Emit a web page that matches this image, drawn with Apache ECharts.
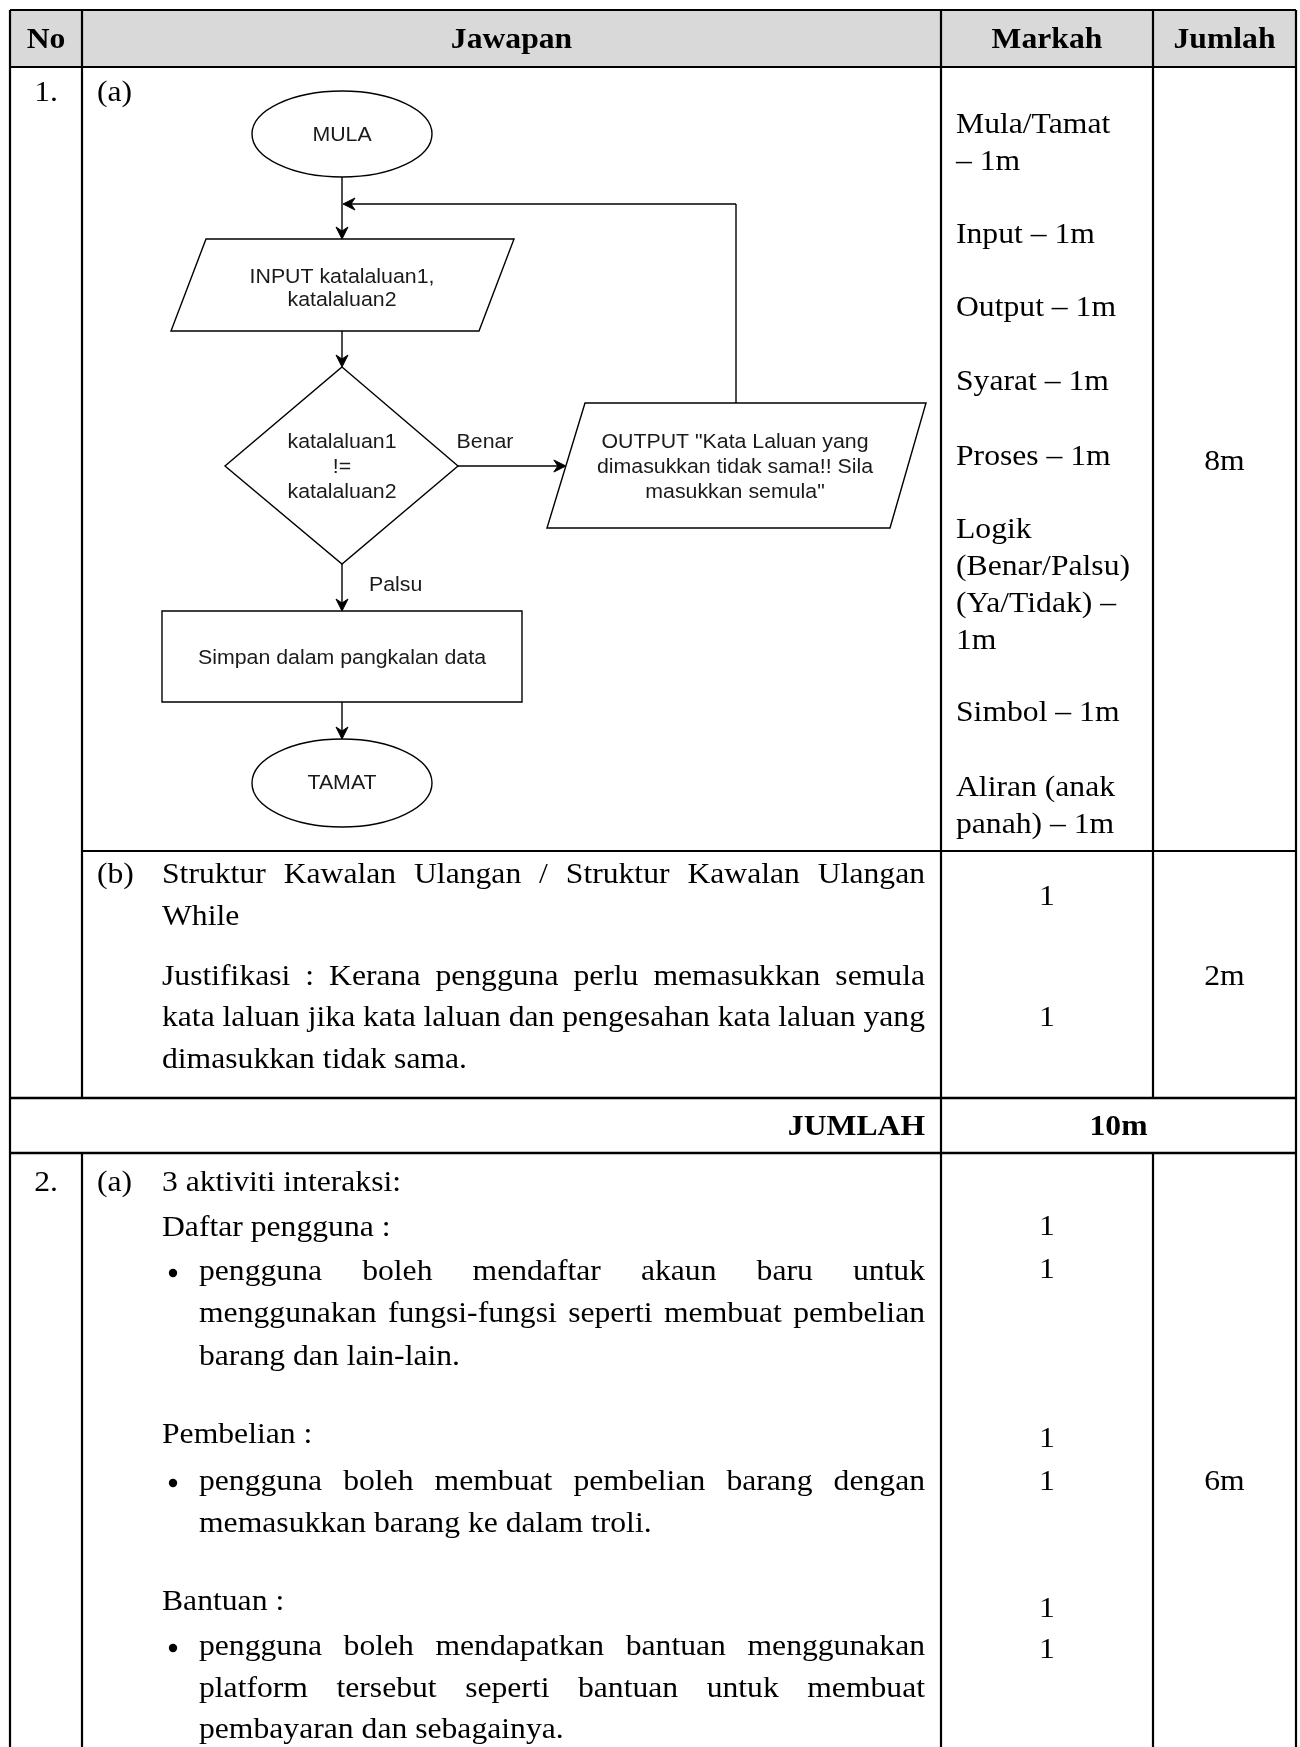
<!DOCTYPE html>
<html><head><meta charset="utf-8">
<script src="https://cdn.jsdelivr.net/npm/echarts@6/dist/echarts.min.js"></script>
<style>html,body{margin:0;padding:0;background:#fff}#c{width:1300px;height:1747px}</style>
</head><body><div id="c"></div>
<script>
// ---------- DATA (text content only) ----------
const headers = ['No', 'Jawapan', 'Markah', 'Jumlah'];
const questionNos = ['1.', '2.'];
const partLabels = ['(a)', '(b)', '(a)'];
const flowStart = 'MULA';
const flowInput = ['INPUT katalaluan1,', 'katalaluan2'];
const flowCond = ['katalaluan1', '!=', 'katalaluan2'];
const flowOutput = ['OUTPUT "Kata Laluan yang', 'dimasukkan tidak sama!! Sila', 'masukkan semula"'];
const flowProcess = 'Simpan dalam pangkalan data';
const flowEnd = 'TAMAT';
const flowBranches = ['Benar', 'Palsu'];
const markahQ1a = ['Mula/Tamat', '– 1m', 'Input – 1m', 'Output – 1m', 'Syarat – 1m', 'Proses – 1m',
  'Logik', '(Benar/Palsu)', '(Ya/Tidak) –', '1m', 'Simbol – 1m', 'Aliran (anak', 'panah) – 1m'];
const jawapanQ1b = [
  ['Struktur Kawalan Ulangan / Struktur Kawalan Ulangan', 'J'],
  ['While', 'L'],
  ['Justifikasi : Kerana pengguna perlu memasukkan semula', 'J'],
  ['kata laluan jika kata laluan dan pengesahan kata laluan yang', 'J'],
  ['dimasukkan tidak sama.', 'L']
];
const marksQ1b = ['1', '1'];
const jumlahQ1 = ['8m', '2m'];
const totalLabel = 'JUMLAH';
const totalQ1 = '10m';
const jawapanQ2a = [
  ['3 aktiviti interaksi:', 'L', 0],
  ['Daftar pengguna :', 'L', 0],
  ['pengguna boleh mendaftar akaun baru untuk', 'J', 2],
  ['menggunakan fungsi-fungsi seperti membuat pembelian', 'J', 1],
  ['barang dan lain-lain.', 'L', 1],
  ['Pembelian :', 'L', 0],
  ['pengguna boleh membuat pembelian barang dengan', 'J', 2],
  ['memasukkan barang ke dalam troli.', 'L', 1],
  ['Bantuan :', 'L', 0],
  ['pengguna boleh mendapatkan bantuan menggunakan', 'J', 2],
  ['platform tersebut seperti bantuan untuk membuat', 'J', 1],
  ['pembayaran dan sebagainya.', 'L', 1]
];
const marksQ2a = ['1', '1', '1', '1', '1', '1'];
const jumlahQ2 = '6m';

// ---------- LAYOUT ----------
const L = {
  left: 10, right: 1296, top: 10, bottom: 1747,
  colNo: 82, colMark: 941, colJum: 1153,
  headBot: 67, row1aBot: 851, row1bBot: 1098, totBot: 1153,
  serif: 'Liberation Serif',
  sans: 'Liberation Sans',
  fs: 30, sx: 1.055, ffs: 20.5, fsx: 1.04,
  textL: 162, textR: 925, bulletX: 173, bulletTextL: 199
};
const markahY = [125, 162, 235, 308, 382, 457, 530, 567, 604, 641, 713, 788, 825];
const q1bY = [875, 917, 977, 1018, 1060];
const q1bMarkY = [897, 1018];
const q2Y = [1183, 1228, 1272, 1314, 1357, 1435, 1482, 1524, 1602, 1647, 1689, 1730];
const q2MarkY = [1227, 1270, 1439, 1482, 1609, 1650];

const els = [];
const ctx = document.createElement('canvas').getContext('2d');
function measure(str, size, fam, bold) { ctx.font = (bold ? 'bold ' : '') + size + 'px "' + fam + '"'; return ctx.measureText(str).width; }

function txt(x, y, s, o) {
  o = o || {};
  els.push({
    type: 'text', x: x, y: y, scaleX: o.sx || L.sx, silent: true, z: 10,
    style: { text: s, fontSize: o.size || L.fs, fontFamily: o.fam || L.serif,
      fontWeight: o.bold ? 'bold' : 'normal', fill: o.fill || '#000',
      textAlign: o.align || 'left', align: o.align || 'left',
      textVerticalAlign: 'middle', verticalAlign: 'middle' }
  });
}
function justify(s, x0, x1, y) {
  const words = s.split(' ');
  const ws = words.map(w => measure(w, L.fs, L.serif) * L.sx);
  const sum = ws.reduce((a, b) => a + b, 0);
  const gap = (x1 - x0 - sum) / (words.length - 1);
  let x = x0;
  words.forEach((w, i) => { txt(x, y, w); x += ws[i] + gap; });
}
function line(x1, y1, x2, y2, w, c) {
  els.push({ type: 'line', silent: true, z: 5, shape: { x1, y1, x2, y2 },
    style: { stroke: c || '#000', lineWidth: w || 2.2 } });
}
function poly(pts, fill, stroke, w) {
  els.push({ type: 'polygon', silent: true, z: 6, shape: { points: pts },
    style: { fill: fill || 'none', stroke: stroke || '#000', lineWidth: w || 1.4 } });
}
function ellipse(cx, cy, rx, ry) {
  els.push({ type: 'ellipse', silent: true, z: 6, shape: { cx, cy, rx, ry },
    style: { fill: '#fff', stroke: '#000', lineWidth: 1.4 } });
}
function arrowHead(x, y, dir) {
  const len = 12, half = 6, notch = 8;
  let p;
  if (dir === 'down') p = [[x, y], [x - half, y - len], [x, y - notch], [x + half, y - len]];
  if (dir === 'left') p = [[x, y], [x + len, y - half], [x + notch, y], [x + len, y + half]];
  if (dir === 'right') p = [[x, y], [x - len, y - half], [x - notch, y], [x - len, y + half]];
  poly(p, '#000', '#000', 1);
}
function ftxt(x, y, s, align) {
  txt(x, y, s, { size: L.ffs, fam: L.sans, sx: L.fsx, fill: '#1a1a1a', align: align || 'center' });
}

// ---------- TABLE ----------
els.push({ type: 'rect', silent: true, z: 1,
  shape: { x: L.left, y: L.top, width: L.right - L.left, height: L.headBot - L.top },
  style: { fill: '#d9d9d9' } });
line(L.left, L.top, L.right, L.top);
line(L.left, L.headBot, L.right, L.headBot);
line(L.colNo, L.row1aBot, L.right, L.row1aBot);
line(L.left, L.row1bBot, L.right, L.row1bBot, 2.6);
line(L.left, L.totBot, L.right, L.totBot, 2.6);
line(L.left, L.top, L.left, L.bottom);
line(L.right, L.top, L.right, L.bottom);
line(L.colMark, L.top, L.colMark, L.bottom);
line(L.colNo, L.top, L.colNo, L.row1bBot);
line(L.colNo, L.totBot, L.colNo, L.bottom);
line(L.colJum, L.top, L.colJum, L.row1bBot);
line(L.colJum, L.totBot, L.colJum, L.bottom);

const headY = 40;
const headX = [(L.left + L.colNo) / 2, (L.colNo + L.colMark) / 2, (L.colMark + L.colJum) / 2, (L.colJum + L.right) / 2];
headers.forEach((h, i) => txt(headX[i], headY, h, { bold: true, align: 'center' }));

const noX = (L.left + L.colNo) / 2;
txt(noX, 93, questionNos[0], { align: 'center' });
txt(noX, q2Y[0], questionNos[1], { align: 'center' });
txt(97, 93, partLabels[0]);
txt(97, q1bY[0], partLabels[1]);
txt(97, q2Y[0], partLabels[2]);

markahQ1a.forEach((s, i) => txt(956, markahY[i], s));
const jumX = (L.colJum + L.right) / 2;
const markX = (L.colMark + L.colJum) / 2;
txt(jumX, 462, jumlahQ1[0], { align: 'center' });

jawapanQ1b.forEach((r, i) => {
  if (r[1] === 'J') justify(r[0], L.textL, L.textR, q1bY[i]);
  else txt(L.textL, q1bY[i], r[0]);
});
marksQ1b.forEach((m, i) => txt(markX, q1bMarkY[i], m, { align: 'center' }));
txt(jumX, 977, jumlahQ1[1], { align: 'center' });

txt(L.textR, 1127, totalLabel, { bold: true, align: 'right' });
txt((L.colMark + L.right) / 2, 1127, totalQ1, { bold: true, align: 'center' });

jawapanQ2a.forEach((r, i) => {
  const x0 = r[2] === 0 ? L.textL : L.bulletTextL;
  if (r[2] === 2) {
    els.push({ type: 'circle', silent: true, z: 10, shape: { cx: L.bulletX, cy: q2Y[i] + 1, r: 4.2 }, style: { fill: '#000' } });
  }
  if (r[1] === 'J') justify(r[0], x0, L.textR, q2Y[i]);
  else txt(x0, q2Y[i], r[0]);
});
marksQ2a.forEach((m, i) => txt(markX, q2MarkY[i], m, { align: 'center' }));
txt(jumX, 1482, jumlahQ2, { align: 'center' });

// ---------- FLOWCHART ----------
const cx = 342;
const F = {
  mula: { cy: 134, rx: 90, ry: 43 },
  inp: { top: 239, bot: 331, tl: 206, tr: 514, bl: 171, br: 479 },
  dia: { top: 367, mid: 466, bot: 564, l: 225, r: 458 },
  out: { top: 403, bot: 528, tl: 585, tr: 926, bl: 547, br: 890 },
  rect: { x0: 162, x1: 522, top: 611, bot: 702 },
  tamat: { cy: 783, rx: 90, ry: 44 },
  loopY: 204, loopX: 736
};
line(cx, F.mula.cy + F.mula.ry, cx, F.inp.top - 8, 1.4);
arrowHead(cx, F.inp.top, 'down');
line(F.loopX, F.out.top, F.loopX, F.loopY, 1.4);
line(F.loopX, F.loopY, cx + 8, F.loopY, 1.4);
arrowHead(cx + 1, F.loopY, 'left');
line(cx, F.inp.bot, cx, F.dia.top - 8, 1.4);
arrowHead(cx, F.dia.top, 'down');
const outLeftAtMid = F.out.tl + (F.out.bl - F.out.tl) * (F.dia.mid - F.out.top) / (F.out.bot - F.out.top);
line(F.dia.r, F.dia.mid, outLeftAtMid - 8, F.dia.mid, 1.4);
arrowHead(outLeftAtMid, F.dia.mid, 'right');
line(cx, F.dia.bot, cx, F.rect.top - 8, 1.4);
arrowHead(cx, F.rect.top, 'down');
line(cx, F.rect.bot, cx, F.tamat.cy - F.tamat.ry - 8, 1.4);
arrowHead(cx, F.tamat.cy - F.tamat.ry, 'down');

ellipse(cx, F.mula.cy, F.mula.rx, F.mula.ry);
poly([[F.inp.tl, F.inp.top], [F.inp.tr, F.inp.top], [F.inp.br, F.inp.bot], [F.inp.bl, F.inp.bot]], '#fff');
poly([[cx, F.dia.top], [F.dia.r, F.dia.mid], [cx, F.dia.bot], [F.dia.l, F.dia.mid]], '#fff');
poly([[F.out.tl, F.out.top], [F.out.tr, F.out.top], [F.out.br, F.out.bot], [F.out.bl, F.out.bot]], '#fff');
els.push({ type: 'rect', silent: true, z: 6, shape: { x: F.rect.x0, y: F.rect.top, width: F.rect.x1 - F.rect.x0, height: F.rect.bot - F.rect.top },
  style: { fill: '#fff', stroke: '#000', lineWidth: 1.4 } });
ellipse(cx, F.tamat.cy, F.tamat.rx, F.tamat.ry);

ftxt(cx, F.mula.cy + 1, flowStart);
ftxt(cx, 277, flowInput[0]); ftxt(cx, 300, flowInput[1]);
flowCond.forEach((s, i) => ftxt(cx, 442 + i * 25, s));
flowOutput.forEach((s, i) => ftxt(735, 442 + i * 25, s));
ftxt(485, 442, flowBranches[0]);
ftxt(369, 585, flowBranches[1], 'left');
ftxt(cx, 658, flowProcess);
ftxt(cx, F.tamat.cy, flowEnd);

const chart = echarts.init(document.getElementById('c'), null, { renderer: 'canvas' });
chart.setOption({ animation: false, backgroundColor: '#fff', graphic: { elements: els } });
</script></body></html>
